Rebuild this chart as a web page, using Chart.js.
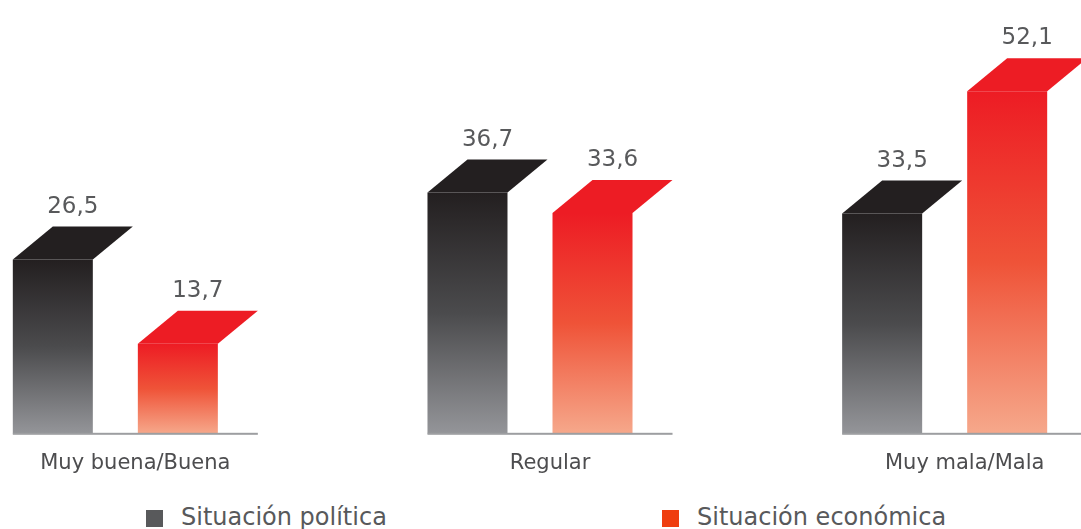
<!DOCTYPE html>
<html>
<head>
<meta charset="utf-8">
<script src="https://cdn.jsdelivr.net/npm/chart.js@4.4.1/dist/chart.umd.min.js"></script>
<style>
  html, body { margin: 0; padding: 0; background: #fff; overflow: hidden; }
  body { width: 1081px; height: 529px; position: relative; }
  #chart { position: absolute; left: -92px; top: 0; }
  .leg { position: absolute; top: 503px; font: 24px "DejaVu Sans", sans-serif; color: #58595b; white-space: nowrap; }
  .leg i { position: absolute; width: 17px; height: 17px; left: -35px; top: 7px; }
</style>
</head>
<body>
<canvas id="chart" width="1244" height="494"></canvas>
<div class="leg" style="left:181px"><i style="background:#58595b"></i>Situación política</div>
<div class="leg" style="left:697px"><i style="background:#ef3e0f"></i>Situación económica</div>
<script>
// data
const categories = ['Muy buena/Buena', 'Regular', 'Muy mala/Mala'];
const politica = [26.5, 36.7, 33.5];
const economica = [13.7, 33.6, 52.1];
const seriesNames = ['Situación política', 'Situación económica'];

const DX = 40, DY = 33; // fake 3d top

function grad(stops) {
    return function(c) {
        const chart = c.chart;
        const y = chart.scales.y;
        if (!y || c.type !== 'data') return stops[1];
        const top = y.getPixelForValue(c.raw);
        const base = y.getPixelForValue(0);
        if (!isFinite(top) || !isFinite(base)) return stops[1];
        const g = chart.ctx.createLinearGradient(0, top, 0, base);
        g.addColorStop(0, stops[0]);
        g.addColorStop(0.5, stops[1]);
        g.addColorStop(1, stops[2]);
        return g;
    };
}

const topColors = ['#231f20', '#ed1c24'];

const tops = {
    id: 'tops',
    afterDatasetsDraw(chart) {
        const ctx = chart.ctx;
        ctx.save();
        chart.data.datasets.forEach((ds, di) => {
            const meta = chart.getDatasetMeta(di);
            meta.data.forEach((bar, i) => {
                const l = bar.x - bar.width / 2, r = bar.x + bar.width / 2;
                ctx.fillStyle = topColors[di];
                ctx.beginPath();
                ctx.moveTo(l, bar.y);
                ctx.lineTo(l + DX, bar.y - DY);
                ctx.lineTo(r + DX, bar.y - DY);
                ctx.lineTo(r, bar.y);
                ctx.closePath();
                ctx.fill();
                // value label
                ctx.fillStyle = '#58595b';
                ctx.font = '23px "DejaVu Sans", sans-serif';
                ctx.textAlign = 'center';
                ctx.textBaseline = 'alphabetic';
                ctx.fillText(ds.data[i].toFixed(1).replace('.', ','), bar.x + DX / 2, bar.y - DY - 14);
            });
        });
        // base line under each group
        const m0 = chart.getDatasetMeta(0), m1 = chart.getDatasetMeta(1);
        ctx.fillStyle = '#9d9ea1';
        m0.data.forEach((b, i) => {
            const b2 = m1.data[i];
            const l = b.x - b.width / 2;
            const r = b2.x + b2.width / 2 + DX;
            ctx.fillRect(l, b.base - 1, r - l, 2);
        });
        ctx.restore();
    }
};

const chart = new Chart(document.getElementById('chart'), {
    type: 'bar',
    data: {
        labels: categories,
        datasets: [{
            label: seriesNames[0],
            data: politica,
            backgroundColor: grad(['#231f20', '#4b4b4d', '#949599']),
            barPercentage: 0.64,
            categoryPercentage: 0.603
        }, {
            label: seriesNames[1],
            data: economica,
            backgroundColor: grad(['#ed1c24', '#ef5338', '#f6a88b']),
            barPercentage: 0.64,
            categoryPercentage: 0.603
        }]
    },
    options: {
        responsive: false,
        animation: false,
        layout: { padding: { top: 0, left: 0, right: 0, bottom: 9 } },
        plugins: { legend: { display: false }, tooltip: { enabled: false } },
        scales: {
            x: {
                grid: { display: false },
                border: { display: false },
                ticks: {
                    color: '#4d4d4f',
                    font: { family: 'DejaVu Sans', size: 21 },
                    padding: 9,
                    labelOffset: 20,
                    maxRotation: 0
                }
            },
            y: { display: false, min: 0, max: 66 }
        }
    },
    plugins: [tops]
});
// gradients need the scales, so resolve them once more
chart.update();
</script>
</body>
</html>
